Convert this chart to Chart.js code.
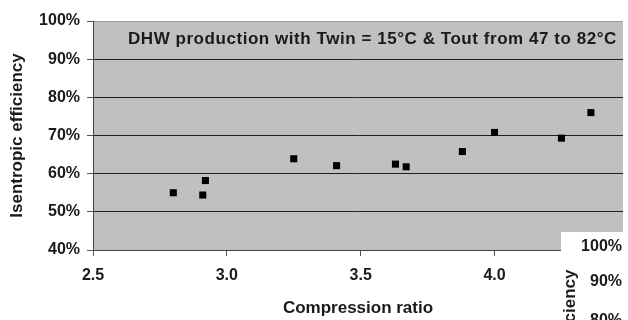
<!DOCTYPE html>
<html>
<head>
<meta charset="utf-8">
<script src="https://cdn.jsdelivr.net/npm/chart.js@4.4.1/dist/chart.umd.min.js"></script>
<style>
  html, body { margin: 0; padding: 0; background: #ffffff; }
  #wrap { width: 628px; height: 320px; position: relative; }
</style>
</head>
<body>
<div id="wrap"><canvas id="c" width="628" height="320"></canvas></div>
<script>
// ---- data ----
const compressionRatio = [2.80, 2.91, 2.92, 3.25, 3.41, 3.63, 3.67, 3.88, 4.00, 4.25, 4.36];
const isentropicEff    = [55.0, 54.4, 58.2, 63.9, 62.1, 62.5, 61.8, 65.8, 70.8, 69.3, 76.0];
const xTickValues = [2.5, 3.0, 3.5, 4.0];
const yTickValues = [40, 50, 60, 70, 80, 90, 100];
const chartTitle = 'DHW production with Twin = 15°C & Tout from 47 to 82°C';
const xTitle = 'Compression ratio';
const yTitle = 'Isentropic efficiency';
const overlayLabels = ['100%', '90%', '80%'];
const overlayAxisText = 'ciency';

const FONT = '"Liberation Sans", Arial, sans-serif';

const points = compressionRatio.map((x, i) => ({ x: x, y: isentropicEff[i] }));

const bgPlugin = {
  id: 'bg',
  beforeDraw(chart) {
    const { ctx, chartArea: a } = chart;
    ctx.save();
    ctx.fillStyle = '#c0c0c0';
    ctx.fillRect(a.left, a.top, a.right - a.left, a.bottom - a.top);
    ctx.restore();
  },
  beforeDatasetsDraw(chart) {
    const { ctx, chartArea: a } = chart;
    ctx.save();
    ctx.font = 'bold 17px ' + FONT;
    ctx.fillStyle = '#1a1a1a';
    ctx.textBaseline = 'middle';
    ctx.textAlign = 'left';
    try { ctx.letterSpacing = '0.55px'; } catch (e) {}
    ctx.fillText(chartTitle, a.left + 35, a.top + 18);
    ctx.restore();
  },
  afterDraw(chart) {
    // pasted fragment of another figure in the bottom-right corner
    const { ctx } = chart;
    const W = chart.width, H = chart.height;
    ctx.save();
    ctx.fillStyle = '#ffffff';
    ctx.fillRect(W - 67, H - 88, 67, 88);
    ctx.font = 'bold 16px ' + FONT;
    ctx.fillStyle = '#1a1a1a';
    ctx.textAlign = 'right';
    ctx.textBaseline = 'middle';
    ctx.fillText(overlayLabels[0], W - 6, H - 73);
    ctx.fillText(overlayLabels[1], W - 6, H - 38);
    ctx.fillText(overlayLabels[2], W - 6, H + 1);
    ctx.translate(W - 58, H - 24);
    ctx.rotate(-Math.PI / 2);
    ctx.textAlign = 'center';
    ctx.font = 'bold 17px ' + FONT;
    ctx.fillText(overlayAxisText, 0, 0);
    ctx.restore();
  }
};

new Chart(document.getElementById('c'), {
  type: 'scatter',
  data: {
    datasets: [{
      data: points,
      pointStyle: 'rect',
      pointRadius: 5,
      pointHoverRadius: 5,
      backgroundColor: '#000000',
      borderColor: '#000000',
      borderWidth: 0
    }]
  },
  options: {
    responsive: false,
    animation: false,
    devicePixelRatio: 1,
    layout: { padding: { left: 0, right: 0, top: 21, bottom: 0 } },
    plugins: { legend: { display: false }, tooltip: { enabled: false }, title: { display: false } },
    scales: {
      x: {
        type: 'linear',
        min: 2.5,
        max: 4.48,
        afterFit(s) { s.height = 70; },
        afterBuildTicks(s) { s.ticks = xTickValues.map(v => ({ value: v })); },
        ticks: {
          color: '#1a1a1a',
          font: { family: FONT, size: 16, weight: 'bold' },
          padding: 10,
          maxRotation: 0,
          callback: v => Number(v).toFixed(1)
        },
        grid: { drawOnChartArea: false, drawTicks: true, tickLength: 6, color: '#555555' },
        border: { display: true, color: '#444444', width: 1 },
        title: {
          display: true, text: xTitle, color: '#1a1a1a',
          font: { family: FONT, size: 17, weight: 'bold' },
          padding: { top: 0, bottom: 1 }
        }
      },
      y: {
        type: 'linear',
        min: 40,
        max: 100,
        afterFit(s) { s.width = 93; },
        afterBuildTicks(s) { s.ticks = yTickValues.map(v => ({ value: v })); },
        ticks: {
          color: '#1a1a1a',
          font: { family: FONT, size: 16, weight: 'bold' },
          padding: 7,
          callback: v => v + '%'
        },
        grid: {
          drawOnChartArea: true, drawTicks: true, tickLength: 6,
          color: c => (c.tick && c.tick.value === 100) ? '#9a9a9a' : '#1e1e1e',
          tickColor: '#555555',
          lineWidth: 1
        },
        border: { display: true, color: '#444444', width: 1 },
        title: {
          display: true, text: yTitle, color: '#1a1a1a',
          font: { family: FONT, size: 17, weight: 'bold' },
          padding: { top: 7, bottom: 0 }
        }
      }
    }
  },
  plugins: [bgPlugin]
});
</script>
</body>
</html>
